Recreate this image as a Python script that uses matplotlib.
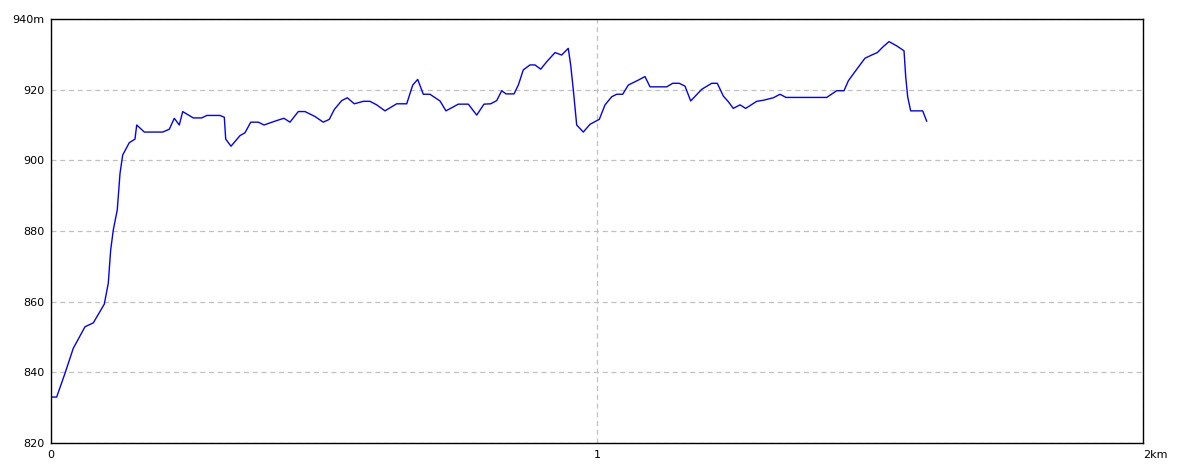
import numpy as np
import matplotlib
matplotlib.use("Agg")
import matplotlib.pyplot as plt

dist_km = [0.0, 0.0104, 0.0256, 0.0408, 0.0623, 0.0775, 0.0976, 0.1049, 0.1093, 0.1141,
           0.1214, 0.1264, 0.1313, 0.1434, 0.1538, 0.157, 0.1709, 0.2046, 0.2167, 0.2258,
           0.235, 0.2412, 0.2606, 0.276, 0.2852, 0.3095, 0.3174, 0.32, 0.3297, 0.3462,
           0.3553, 0.3658, 0.3797, 0.3901, 0.4011, 0.4163, 0.4267, 0.4377, 0.4529, 0.4652,
           0.4835, 0.4987, 0.5097, 0.5189, 0.5324, 0.5427, 0.5555, 0.572, 0.5842, 0.5965,
           0.6117, 0.6331, 0.6515, 0.6625, 0.6716, 0.6819, 0.6941, 0.7125, 0.7234, 0.746,
           0.7643, 0.7797, 0.793, 0.8053, 0.8163, 0.8255, 0.8333, 0.848, 0.8559, 0.865,
           0.8773, 0.8864, 0.8969, 0.9079, 0.9231, 0.9353, 0.9474, 0.9518, 0.9566, 0.9628,
           0.9749, 0.9872, 1.0042, 1.0147, 1.027, 1.0361, 1.0471, 1.0573, 1.0756, 1.0879,
           1.0971, 1.1277, 1.1386, 1.1507, 1.1612, 1.1716, 1.1918, 1.2101, 1.2203, 1.2313,
           1.2405, 1.2496, 1.2619, 1.2723, 1.2925, 1.3046, 1.3229, 1.3352, 1.3462, 1.4207,
           1.439, 1.4524, 1.4603, 1.4725, 1.4908, 1.5031, 1.5134, 1.5244, 1.5348, 1.5489,
           1.5623, 1.5654, 1.569, 1.5745, 1.5965, 1.6038]
alt_m = [833, 833, 839.7, 846.8, 852.9, 854, 859.3, 865.2, 874.6, 880.3,
         886, 896.3, 901.5, 905, 906, 910, 908, 908, 908.8, 911.9,
         910, 913.8, 912, 912, 912.7, 912.7, 912.2, 906, 904, 907,
         907.8, 910.8, 910.8, 910, 910.6, 911.4, 911.9, 910.8, 913.8, 913.8,
         912.4, 910.8, 911.6, 914.4, 916.9, 917.7, 916, 916.7, 916.7, 915.7,
         914, 916, 916, 921.3, 922.9, 918.7, 918.7, 916.8, 914, 915.9,
         915.9, 912.8, 915.9, 916, 916.9, 919.7, 918.8, 918.8, 921.3, 925.6,
         927, 927, 925.8, 927.9, 930.5, 929.8, 931.7, 927, 920, 910,
         908, 910.2, 911.6, 915.7, 918, 918.7, 918.7, 921.3, 922.7, 923.7,
         920.8, 920.8, 921.8, 921.8, 921, 916.8, 920.1, 921.8, 921.8, 918.2,
         916.6, 914.7, 915.7, 914.7, 916.7, 917, 917.7, 918.7, 917.8, 917.8,
         919.7, 919.7, 922.5, 925.1, 928.9, 929.8, 930.5, 932.2, 933.6, 932.4,
         931, 923.7, 918, 914, 914, 911.1]

x_ticks = [0, 1, 2]
x_labels = ["0", "1", "2km"]
y_ticks = [820, 840, 860, 880, 900, 920, 940]
y_labels = ["820", "840", "860", "880", "900", "920", "940m"]

fig = plt.figure(figsize=(11.84, 4.73), dpi=100)
ax = fig.add_axes([51 / 1184, 30 / 473, 1092 / 1184, 424 / 473])

ax.plot(dist_km, alt_m, color="#0000ff", lw=1.0)

ax.set_xlim(0, 2)
ax.set_ylim(820, 940)
ax.set_xticks(x_ticks)
ax.set_xticklabels(x_labels)
ax.set_yticks(y_ticks)
ax.set_yticklabels(y_labels)
ax.tick_params(length=0, labelsize=8, pad=5)
# la etiqueta "2km" empieza en el borde derecho
ax.get_xticklabels()[-1].set_horizontalalignment("left")
ax.grid(True, color="#c0c0c0", linestyle=(0, (4, 3)), lw=0.9)
for s in ax.spines.values():
    s.set_color("black")
    s.set_linewidth(1.0)

fig.savefig("out.png", dpi=100)
